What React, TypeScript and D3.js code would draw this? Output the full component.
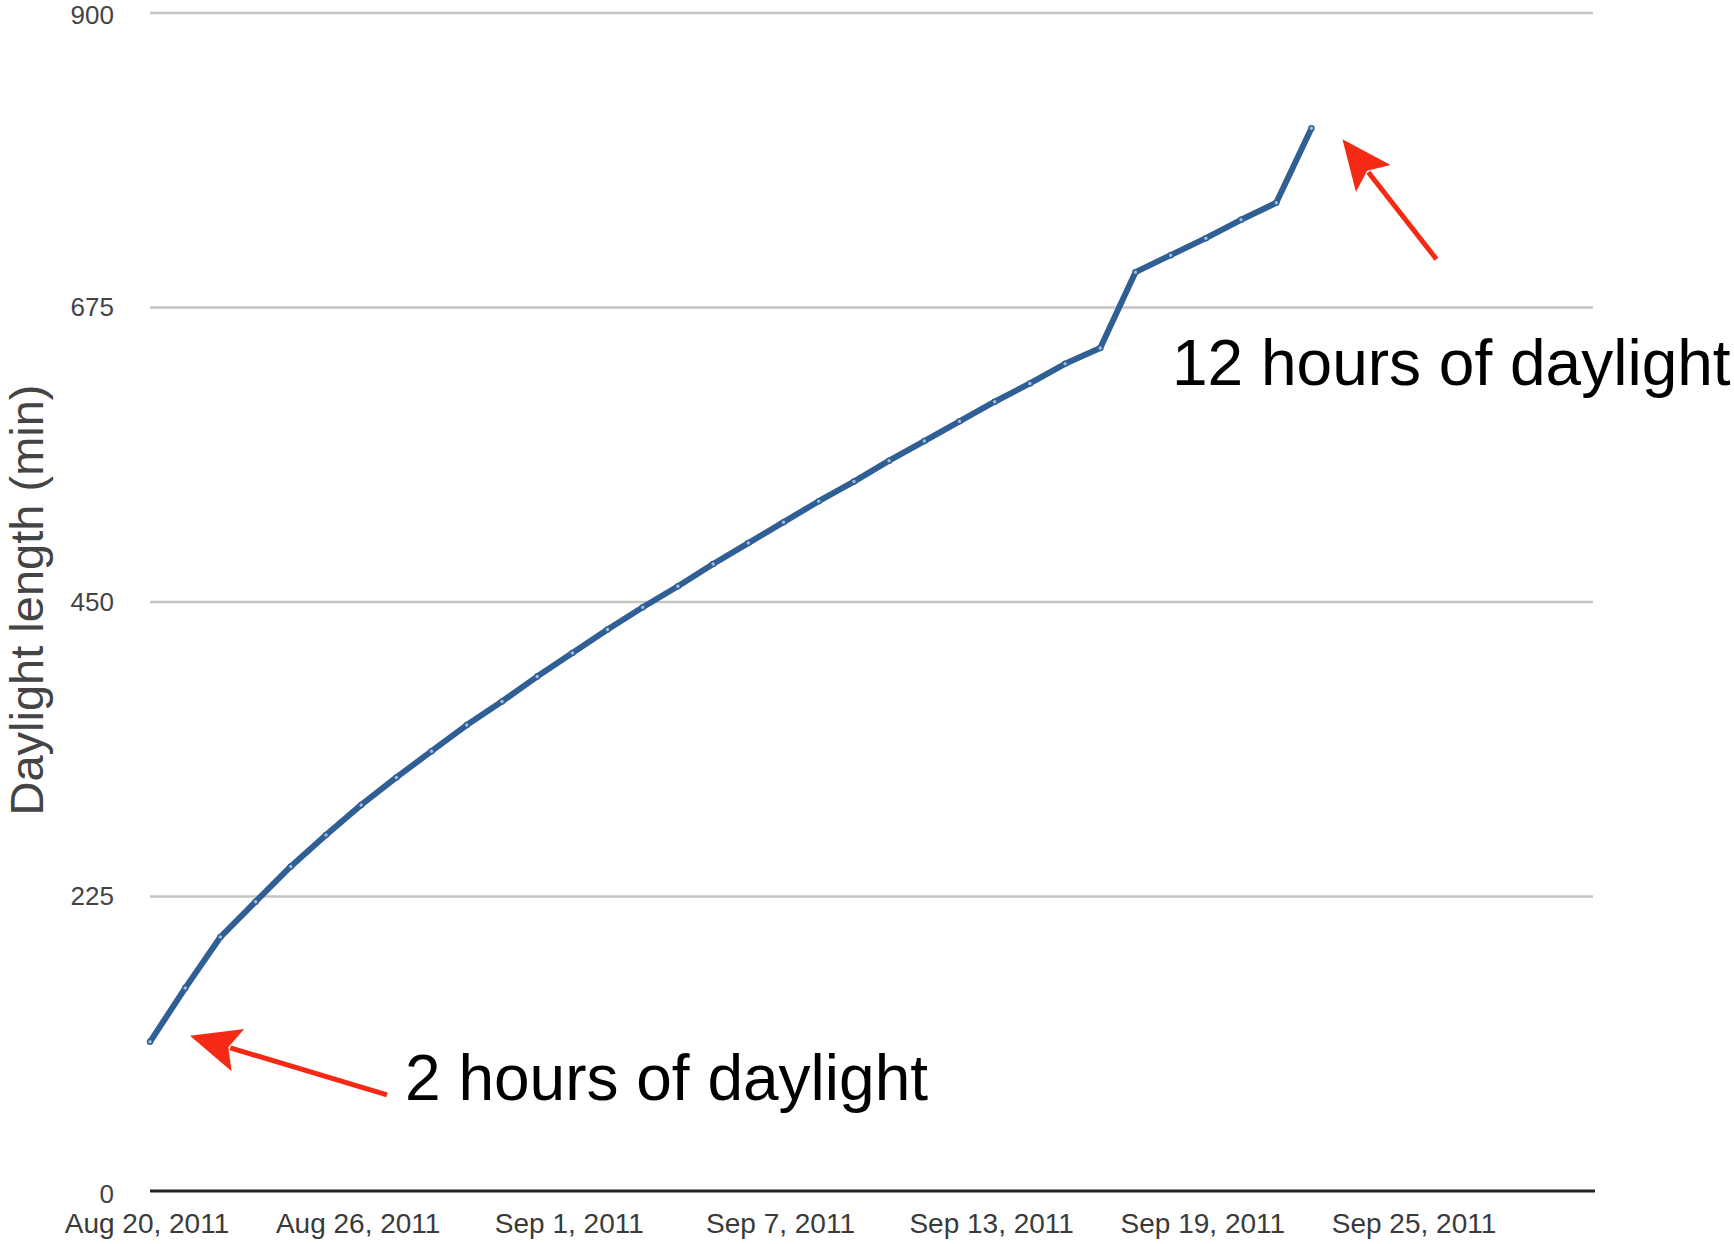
import React, { useRef, useEffect } from 'react'
import * as d3 from 'd3'

// daylight length in minutes, one reading per day starting Aug 20, 2011
const startDate = '2011-08-20'
const daylightMinutes = [
  114, 155, 194, 221, 248, 272, 295, 316, 336, 356,
  374, 393, 411, 429, 446, 462, 479, 495, 511, 527,
  542, 558, 573, 588, 603, 617, 632, 644, 702, 715,
  728, 742, 755, 812,
]
const yTicks = [0, 225, 450, 675, 900]
const xTickDates = ['2011-08-20', '2011-08-26', '2011-09-01', '2011-09-07', '2011-09-13', '2011-09-19', '2011-09-25']
const xDomain = ['2011-08-20', '2011-09-30']
const annotations = ['2 hours of daylight', '12 hours of daylight']

const parse = d3.timeParse('%Y-%m-%d')

const App = () => {
  const svgRef = useRef(null)

  useEffect(() => {
    const svg = d3.select(svgRef.current)
    const width = 1734
    const height = 1244
    const margin = { top: 13, right: 141, bottom: 53, left: 150 }
    svg.selectAll('*').remove()

    const start = parse(startDate)
    const data = daylightMinutes.map((v, i) => ({ date: d3.timeDay.offset(start, i), value: v }))

    const x = d3.scaleTime()
      .domain(xDomain.map(d => parse(d)))
      .range([margin.left, width - margin.right])

    const y = d3.scaleLinear()
      .domain([0, 900])
      .range([height - margin.bottom, margin.top])

    // Gridlines
    svg.append('g')
      .selectAll('line')
      .data(yTicks.filter(d => d > 0))
      .enter().append('line')
      .attr('x1', margin.left)
      .attr('x2', width - margin.right)
      .attr('y1', d => y(d))
      .attr('y2', d => y(d))
      .attr('stroke', '#c4c4c4')
      .attr('stroke-width', 2.5)

    // Baseline
    svg.append('line')
      .attr('x1', margin.left)
      .attr('x2', width - margin.right + 2)
      .attr('y1', y(0))
      .attr('y2', y(0))
      .attr('stroke', '#222')
      .attr('stroke-width', 3)

    // Y tick labels
    svg.append('g')
      .selectAll('text')
      .data(yTicks)
      .enter().append('text')
      .attr('x', 114)
      .attr('y', d => y(d) + (d === 0 ? 5 : d === 900 ? 4 : 2))
      .attr('text-anchor', 'end')
      .attr('dominant-baseline', 'middle')
      .attr('font-family', 'Liberation Sans, Arial, sans-serif')
      .attr('font-size', 26)
      .attr('fill', '#444')
      .text(d => d)

    // X tick labels
    const fmt = d3.timeFormat('%b %-d, %Y')
    svg.append('g')
      .selectAll('text')
      .data(xTickDates.map(d => parse(d)))
      .enter().append('text')
      .attr('x', d => x(d) - 3)
      .attr('y', 1233)
      .attr('text-anchor', 'middle')
      .attr('font-family', 'Liberation Sans, Arial, sans-serif')
      .attr('font-size', 28)
      .attr('fill', '#3a3a3a')
      .text(d => fmt(d))

    // Y axis title
    svg.append('text')
      .attr('transform', `translate(43,${600}) rotate(-90)`)
      .attr('text-anchor', 'middle')
      .attr('font-family', 'Liberation Sans, Arial, sans-serif')
      .attr('font-size', 47)
      .attr('fill', '#444')
      .text('Daylight length (min)')

    // Line
    const line = d3.line()
      .x(d => x(d.date))
      .y(d => y(d.value))
    svg.append('path')
      .datum(data)
      .attr('d', line)
      .attr('fill', 'none')
      .attr('stroke', '#2f5f94')
      .attr('stroke-width', 6)
      .attr('stroke-linejoin', 'round')

    svg.append('g')
      .selectAll('circle')
      .data(data)
      .enter().append('circle')
      .attr('cx', d => x(d.date))
      .attr('cy', d => y(d.value))
      .attr('r', 2.5)
      .attr('fill', '#9fbadb')
      .attr('stroke', '#2f5f94')
      .attr('stroke-width', 1.5)

    // Annotations with arrows
    const red = '#f52a14'
    const arrow = (hx, hy, tx, ty) => {
      const ang = Math.atan2(hy - ty, hx - tx)
      const len = 50
      const hw = 22
      const bx = hx - len * Math.cos(ang)
      const by = hy - len * Math.sin(ang)
      svg.append('line')
        .attr('x1', tx).attr('y1', ty)
        .attr('x2', bx + 8 * Math.cos(ang)).attr('y2', by + 8 * Math.sin(ang))
        .attr('stroke', red)
        .attr('stroke-width', 5)
      const px = -Math.sin(ang)
      const py = Math.cos(ang)
      svg.append('polygon')
        .attr('points', [[hx, hy], [bx + hw * px, by + hw * py], [bx + 10 * Math.cos(ang), by + 10 * Math.sin(ang)], [bx - hw * px, by - hw * py]].map(p => p.join(',')).join(' '))
        .attr('fill', red)
    }

    const first = data[0]
    const last = data[data.length - 1]
    const h1 = [x(first.date) + 40, y(first.value) - 6]
    const h2 = [x(last.date) + 31, y(last.value) + 11]
    arrow(h1[0], h1[1], h1[0] + 197, h1[1] + 59)
    arrow(h2[0], h2[1], h2[0] + 94, h2[1] + 120)

    svg.append('text')
      .attr('x', h1[0] + 215)
      .attr('y', h1[1] + 64)
      .attr('font-family', 'Liberation Sans, Arial, sans-serif')
      .attr('font-size', 64)
      .attr('fill', '#000')
      .text(annotations[0])

    svg.append('text')
      .attr('x', 1172)
      .attr('y', h2[1] + 246)
      .attr('font-family', 'Liberation Sans, Arial, sans-serif')
      .attr('font-size', 64)
      .attr('fill', '#000')
      .text(annotations[1])
  }, [])

  return (
    <div style={{ position: 'absolute', left: 0, top: 0, background: '#fff' }}>
      <svg ref={svgRef} width={1734} height={1244}></svg>
    </div>
  )
}

export default App
